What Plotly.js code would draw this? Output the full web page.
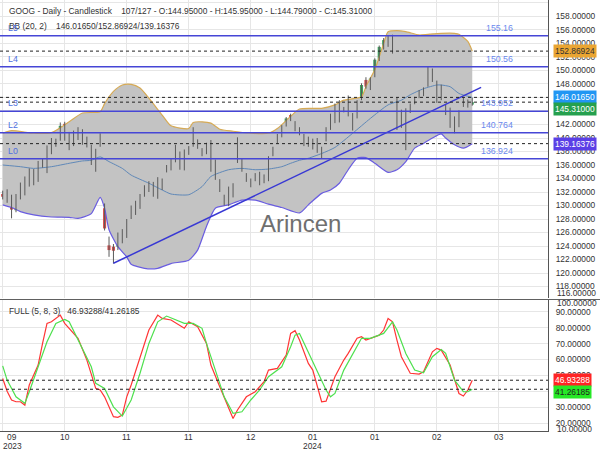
<!DOCTYPE html>
<html><head><meta charset="utf-8">
<script src="https://cdn.plot.ly/plotly-3.0.1.min.js"></script>
<style>html,body{margin:0;padding:0;background:#fff}#chart{width:600px;height:450px}</style>
</head><body><div id="chart"></div>
<script>
// ---------- DATA ----------
const symbol = 'GOOG';
const openP = [131.7,130.8,131.3,129.3,131.1,131.85,133.0,133.2,133.8,136.4,
135.0,138.0,139.45,140.0,142.1,140.4,139.0,140.0,141.0,139.7,
138.7,136.25,139.0,129.6,124.1,123.9,123.9,125.0,125.6,129.6,
128.9,129.8,131.6,132.3,133.0,131.3,132.8,135.7,135.5,136.7,
137.7,135.5,137.8,139.0,139.45,137.7,138.0,139.45,136.5,133.3,
131.3,130.1,131.6,136.7,135.5,133.8,133.0,134.5,134.8,133.5,
133.8,137.5,140.2,140.4,141.9,143.4,142.2,141.4,139.0,139.5,
138.5,139.7,138.5,139.7,141.4,142.4,144.6,144.2,143.4,143.2,
143.4,145.9,148.6,147.4,149.8,151.6,153.3,153.8,154.0,145.4,
143.6,140.5,143.9,145.9,146.1,146.4,147.85,149.6,146.0,147.6,
144.6,144.2,141.0,142.0,145.8,144.8,144.95];
const highP = [132.2,132.4,131.6,131.7,133.4,134.3,135.5,135.4,136.6,136.9,
138.9,140.0,139.9,142.3,142.4,140.9,141.1,141.6,141.3,140.2,
139.0,138.4,140.7,130.3,125.4,124.3,126.0,126.5,128.0,130.0,
130.7,131.7,133.0,133.6,133.5,134.2,134.0,136.0,137.0,139.0,
138.0,138.3,138.8,141.6,139.8,138.5,139.3,139.7,136.8,133.9,
131.6,132.8,133.3,140.1,136.9,134.8,134.0,134.8,135.0,134.6,
137.3,138.7,140.6,141.9,143.1,143.6,142.5,141.6,140.6,140.2,
139.9,140.0,138.7,141.6,143.6,145.1,145.6,144.6,146.3,143.7,
145.6,148.1,149.0,149.0,151.8,153.7,154.8,155.2,155.3,146.0,
144.2,144.4,145.1,146.1,147.1,147.5,150.6,150.3,148.5,147.9,
144.9,144.5,143.2,144.1,146.0,145.7,145.95];
const lowP = [130.9,130.4,128.1,129.0,130.9,131.5,132.8,133.0,133.5,135.6,
134.8,137.6,138.7,139.6,139.6,138.2,138.8,139.7,139.0,138.6,
136.0,135.0,138.7,126.3,122.4,121.4,123.4,124.4,125.2,128.0,
128.6,129.5,131.3,132.0,131.3,131.0,132.3,134.9,135.2,136.4,
135.3,135.2,137.5,138.7,138.4,137.3,137.6,135.0,133.8,132.0,
130.0,129.9,131.2,136.3,135.0,133.5,132.7,133.6,133.0,133.3,
133.6,137.3,139.2,140.1,141.7,142.5,141.0,140.4,138.8,138.7,
138.3,137.8,136.9,139.5,141.2,142.2,142.3,143.8,143.2,141.1,
142.9,145.6,147.3,147.1,149.0,151.4,153.1,153.5,152.5,141.2,
141.5,138.2,143.7,145.0,145.9,146.2,147.6,148.3,145.2,145.6,
143.4,141.5,140.7,141.6,144.6,144.5,144.79];
const closeP = [131.3,132.0,129.4,131.4,133.0,134.1,135.3,135.0,136.3,136.0,
138.7,139.7,139.2,141.8,140.0,138.5,140.9,140.9,139.2,138.8,
136.7,138.0,140.4,126.6,123.4,123.3,125.6,126.2,127.6,128.3,
130.4,131.4,132.8,133.3,131.6,134.0,133.8,135.2,136.7,138.7,
135.5,138.0,138.5,140.2,138.7,138.2,139.0,136.5,134.0,132.4,
130.3,132.5,133.0,138.2,136.7,134.5,133.8,133.8,133.3,134.3,
137.0,138.5,139.45,141.7,142.9,142.7,141.2,140.7,140.4,139.4,
139.7,138.0,137.2,141.4,143.4,144.9,143.9,144.1,145.4,142.7,
145.4,147.85,147.6,148.8,151.6,153.5,154.5,155.0,152.8,141.7,
142.4,143.6,144.9,145.2,146.9,147.3,150.4,148.6,145.7,146.8,
143.6,141.9,142.6,143.8,145.2,145.3,145.31];

// Bollinger bands (20,2), sampled at bar indices
const bbUpperX = [0,2,7,11,15,18,22,23,25,27,29,31,33,36,38,42,43,45,47,49,52,56,60,62,65,67,72,75,77,81,82,84,85,86,87,89,91,94,96,99,102,103,105,106];
const bbUpperY = [140.7,141.1,140.7,140.8,142.4,143.7,143.9,145.1,146.9,147.85,147.95,147.4,145.9,143.4,141.8,141.4,142.3,142.4,142.2,141.3,141.0,140.7,140.7,141.4,143.2,144.3,144.4,144.9,145.6,146.1,147.6,150.1,152.0,154.0,155.75,155.9,155.75,155.26,155.36,155.5,155.5,155.36,154.3,152.86924];
const bbLowerX = [0,2,4,7,11,15,17,20,22,23,24,26,28,29,32,35,38,42,44,46,48,51,54,57,60,63,67,69,72,74,76,78,80,82,84,87,89,91,93,95,97,99,100,102,104,106];
const bbLowerY = [130.1,129.7,129.1,128.6,128.3,128.25,128.1,128.8,131.2,129.6,126.4,123.9,122.4,121.3,120.7,120.7,121.4,121.9,123.4,126.9,129.6,130.1,130.8,130.8,130.2,129.7,128.9,130.1,131.8,132.3,133.3,135.3,137.0,137.1,136.25,134.9,135.3,136.5,138.5,139.2,140.0,140.6,140.0,139.0,138.5,139.16376];
const bbMidX = [0,4,7,11,15,18,20,22,24,27,29,33,36,38,42,45,47,51,54,57,60,63,65,67,69,72,75,79,83,87,90,92,95,98,99,101,103,106];
const bbMidY = [136.0,135.75,135.5,135.75,136.25,136.6,136.7,137.2,136.5,135.5,134.5,133.3,132.3,131.7,131.6,132.8,134.3,135.3,135.5,135.3,135.4,135.75,136.25,136.7,137.0,137.7,138.6,140.7,142.9,144.9,145.6,146.4,147.3,147.85,147.85,147.6,146.6,146.0165];
const bbLast = [146.01650, 152.86924, 139.16376]; // middle / upper / lower

// Full stochastic (5,8,3)
const stochKX = [0,1,2,3,4,5,6,8,9,10,11,13,14,17,19,21,22,23,25,26,27,28,29,31,33,35,36,38,41,42,44,46,47,49,51,52,53,55,57,59,60,62,64,65,66,67,69,70,72,73,75,77,78,80,81,82,85,86,87,88,89,90,92,94,95,97,98,99,101,103,104,105,106];
const stochKY = [48,40,34.5,33.4,33.4,31.3,43.9,56.5,70.1,82.7,83.7,87.9,82.7,73.3,59.6,41.8,40.8,36.5,24.0,23.6,25.0,36.5,43.9,61.7,78.5,87.9,85.8,84.8,79.6,83.7,80.6,70.1,56.5,42.8,29.2,22.9,28.2,36.5,39.7,46.0,53.3,54.4,62.8,76.4,78.1,72.2,57.5,53.3,33.4,33.8,49.1,59.6,63.8,73.3,74.3,72.2,75.3,78.5,85.8,83.7,72.2,61.7,51.3,50.8,52.3,64.8,67.0,65.9,56.5,38.6,37.0,40.8,46.93288];
const stochDX = [0,1,3,5,6,8,10,12,14,15,17,20,21,23,25,27,29,31,33,35,37,39,41,43,45,46,48,50,52,54,56,58,60,63,65,66,67,69,71,73,74,75,77,79,81,83,86,88,89,91,93,95,97,99,100,102,104,105,106];
const stochDY = [56,47.0,36.5,32.4,39.7,55.4,71.1,82.7,85.2,83.7,72.2,55.4,45.0,41.8,30.2,24.4,34.5,51.3,70.1,83.7,87.3,84.8,82.7,82.7,79.6,70.1,53.3,36.5,26.1,27.1,34.5,40.8,49.1,55.4,68.0,75.3,76.4,64.8,52.3,40.8,36.5,38.6,53.3,63.8,73.3,73.3,76.4,83.7,78.5,63.8,53.3,51.6,61.7,66.3,63.8,47.0,39.7,39.7,41.26185];
const stochLast = [46.93288, 41.26185];

// Drawn price levels and trend line
const levelNames  = ['L5','L4','L3','L2','L0'];
const levelValues = [155.16, 150.56, 143.952, 140.764, 136.924];
const trendX = [25, 108];
const trendY = [121.44, 147.5];

// X-axis labels
const tickBars   = [0,14,28,42,56,70,84,98,112];
const tickMonths = ['09','10','11','11','12','01','01','02','03'];
const tickYears  = {0:'2023', 70:'2024'};

// ---------- DRAWING ----------
const FONT = 'Liberation Sans, Arial, sans-serif';
const FS = 8.4;
const PW = 548, PH = 431;
const px = v => v / PW;
const py = v => 1 - v / PH;
const NB = '\u00A0';
const last = closeP.length - 1;
const xs = closeP.map((_, i) => i);
const UP = '#3fa660', DOWN = '#d94a4a';

const wickX = [], wickY = [];
xs.forEach(i => { wickX.push(i, i, null); wickY.push(lowP[i], highP[i], null); });

const traces = [
  {type:'scatter', mode:'lines', x:bbLowerX, y:bbLowerY, line:{color:'#6a5de0', width:1.2, shape:'spline', smoothing:0.6}, hoverinfo:'skip', xaxis:'x', yaxis:'y'},
  {type:'scatter', mode:'lines', x:bbUpperX, y:bbUpperY, fill:'tonexty', fillcolor:'#c3c3c3', line:{color:'#d6aa55', width:1.2, shape:'spline', smoothing:0.6}, hoverinfo:'skip', xaxis:'x', yaxis:'y'},
  {type:'scatter', mode:'lines', x:bbMidX, y:bbMidY, line:{color:'#5f88b8', width:1, shape:'spline', smoothing:0.6}, hoverinfo:'skip', xaxis:'x', yaxis:'y'},
  {type:'scatter', mode:'lines', x:wickX, y:wickY, line:{color:'#5a5a5a', width:1}, hoverinfo:'skip', xaxis:'x', yaxis:'y', connectgaps:false},
  // candle bodies: from open to close
  {type:'bar', x:xs, base:openP, y:xs.map(i => closeP[i] - openP[i]), width:0.7,
   marker:{color:xs.map(i => closeP[i] >= openP[i] ? UP : DOWN), line:{width:0}},
   hoverinfo:'skip', xaxis:'x', yaxis:'y'},
  {type:'scatter', mode:'lines', x:trendX, y:trendY, line:{color:'#3838d4', width:1.5}, hoverinfo:'skip', xaxis:'x', yaxis:'y'},
  {type:'scatter', mode:'lines', x:stochKX, y:stochKY, line:{color:'#ff3535', width:1.2}, hoverinfo:'skip', xaxis:'x', yaxis:'y2'},
  {type:'scatter', mode:'lines', x:stochDX, y:stochDY, line:{color:'#4ee04e', width:1.2}, hoverinfo:'skip', xaxis:'x', yaxis:'y2'}
];

const shapes = [];
levelValues.forEach(v => shapes.push({type:'line', xref:'paper', yref:'y', x0:0, x1:1, y0:v, y1:v, line:{color:'#4646d6', width:1.5}, layer:'above'}));
[bbLast[1], bbLast[0], closeP[last], bbLast[2]].forEach(v => shapes.push({type:'line', xref:'paper', yref:'y', x0:0, x1:1, y0:v, y1:v, line:{color:'#222', width:1, dash:'3px,3px'}, layer:'above'}));
stochLast.forEach(v => shapes.push({type:'line', xref:'paper', yref:'y2', x0:0, x1:1, y0:v, y1:v, line:{color:'#222', width:1, dash:'3px,3px'}, layer:'above'}));
shapes.push({type:'line', xref:'paper', yref:'paper', x0:0, x1:600/PW, y0:py(299.5), y1:py(299.5), line:{color:'#606060', width:1.2}});

const ann = [];
const txt = (x, y, text, opt={}) => ann.push(Object.assign({xref:'paper', yref:'paper', x:px(x), y:py(y), text, showarrow:false, xanchor:'left', yanchor:'middle', font:{family:FONT, size:FS, color:'#333'}}, opt));

const f5 = v => v.toFixed(5);
txt(7, 10.7, `${symbol} - Daily - Candlestick${NB.repeat(4)}${last+1}/127 - O:${f5(openP[last])} - H:${f5(highP[last])} - L:${f5(lowP[last])} - C:${f5(closeP[last])}`);
txt(7, 25.7, `BB (20, 2)${NB.repeat(4)}${bbLast.map(f5).join('/')}`);
txt(7, 310.7, `FULL (5, 8, 3)${NB.repeat(3)}${stochLast.map(f5).join('/')}`);
txt(300, 223, 'Arincen', {xanchor:'center', font:{family:FONT, size:24, color:'#6f6f6f'}});

levelValues.forEach((v, k) => {
  ann.push({xref:'paper', yref:'y', x:px(6), y:v, yshift:1, text:levelNames[k], showarrow:false, xanchor:'left', yanchor:'bottom', font:{family:FONT, size:FS+0.4, color:'#5070e0'}});
  ann.push({xref:'paper', yref:'y', x:px(515), y:v, yshift:1, text:String(v), showarrow:false, xanchor:'right', yanchor:'bottom', font:{family:FONT, size:FS+0.4, color:'#6a88ee'}});
});

const box = (yref, v, text, bg, fg, shift=0) => ann.push({xref:'paper', yref, x:px(553), y:v, yshift:shift, text, showarrow:false, xanchor:'left', yanchor:'middle', bgcolor:bg, borderpad:1, font:{family:FONT, size:FS, color:fg}});
box('y', bbLast[1], f5(bbLast[1]), '#eaa532', '#333');
box('y', bbLast[0], f5(bbLast[0]), '#2196f3', '#fff');
box('y', closeP[last], f5(closeP[last]), '#25a04e', '#fff', -7);
box('y', bbLast[2], f5(bbLast[2]), '#5b3fe6', '#fff');
box('y2', stochLast[0], f5(stochLast[0]), '#ff2424', '#fff');
box('y2', stochLast[1], f5(stochLast[1]), '#26e826', '#222', -3);

// edge labels of the two value axes
txt(555, 292.5, f5(116));
txt(555, 302.5, f5(100));
txt(555, 429, f5(10));

// x labels: month on first line, year (when it changes) below
tickBars.forEach((b, k) => {
  const first = k === 0;
  const base = first ? {xref:'paper', x:px(12)} : {xref:'x', x:b};
  ann.push(Object.assign({yref:'paper', y:py(436.5), text:tickMonths[k], showarrow:false, xanchor:'center', yanchor:'middle', font:{family:FONT, size:FS, color:'#333'}}, base));
  if (tickYears[b]) ann.push(Object.assign({yref:'paper', y:py(445.5), text:tickYears[b], showarrow:false, xanchor:'center', yanchor:'middle', font:{family:FONT, size:FS, color:'#333'}}, base));
});

const layout = {
  width:600, height:450, margin:{l:0, r:52, t:0, b:19},
  paper_bgcolor:'#fff', plot_bgcolor:'#fff', showlegend:false, barmode:'overlay',
  font:{family:FONT, size:FS, color:'#333'},
  xaxis:{domain:[0,1], range:[-0.61, 123.1], anchor:'y2', tickmode:'array', tickvals:tickBars, showticklabels:false,
         showgrid:true, gridcolor:'#e6e6e6', gridwidth:1, zeroline:false, showline:true, linecolor:'#555', linewidth:1,
         ticks:'', fixedrange:true},
  yaxis:{domain:[1-298/PH, 1], range:[116.3, 160.44], side:'right', anchor:'x', tickmode:'linear', tick0:0, dtick:2, tickformat:'.5f',
         showgrid:true, gridcolor:'#e6e6e6', zeroline:false, showline:true, linecolor:'#555', linewidth:1, ticks:'', ticklabelstandoff:5,
         tickfont:{family:FONT, size:FS, color:'#333'}},
  yaxis2:{domain:[0, 131/PH], range:[15, 97.4], side:'right', anchor:'x', tickmode:'linear', tick0:0, dtick:10, tickformat:'.5f',
         showgrid:true, gridcolor:'#e6e6e6', zeroline:false, showline:true, linecolor:'#555', linewidth:1, ticks:'', ticklabelstandoff:5,
         tickfont:{family:FONT, size:FS, color:'#333'}},
  shapes, annotations:ann
};

Plotly.newPlot('chart', traces, layout, {staticPlot:true, displayModeBar:false});
</script></body></html>
